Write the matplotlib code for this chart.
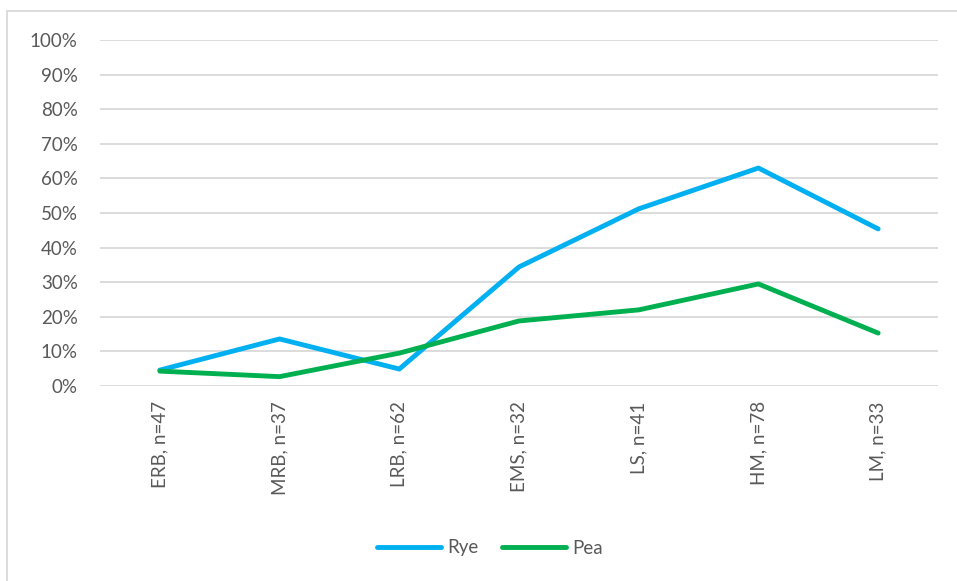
import matplotlib.pyplot as plt
from matplotlib.patches import Rectangle
from matplotlib.ticker import PercentFormatter, MultipleLocator

plt.rcParams['font.family'] = ['Lato', 'DejaVu Sans']

categories = ['ERB, n=47', 'MRB, n=37', 'LRB, n=62', 'EMS, n=32', 'LS, n=41', 'HM, n=78', 'LM, n=33']
rye = [0.046, 0.136, 0.049, 0.344, 0.512, 0.630, 0.454]
pea = [0.043, 0.027, 0.095, 0.188, 0.220, 0.295, 0.153]

text_color = '#595959'
grid_color = '#D9D9D9'

fig = plt.figure(figsize=(9.57, 5.81), dpi=100)
ax = fig.add_axes([100 / 957, 1 - 386 / 581, 838 / 957, 346 / 581])

x = range(len(categories))
ax.plot(x, rye, color='#00B0F0', lw=3.5, solid_capstyle='round', solid_joinstyle='round', label='Rye')
ax.plot(x, pea, color='#00B050', lw=3.5, solid_capstyle='round', solid_joinstyle='round', label='Pea')

ax.set_xlim(-0.5, len(categories) - 0.5)
ax.set_ylim(0, 1.0)
ax.yaxis.set_major_locator(MultipleLocator(0.1))
ax.yaxis.set_major_formatter(PercentFormatter(1.0, decimals=0))
ax.grid(axis='y', color=grid_color, lw=1.3)
ax.set_axisbelow(True)
for s in ax.spines.values():
    s.set_visible(False)

ax.set_xticks(list(x))
ax.set_xticklabels(categories, rotation=90, fontsize=13.5, color=text_color)
ax.tick_params(axis='both', length=0)
ax.tick_params(axis='y', labelsize=13.5, labelcolor=text_color, pad=16)
ax.tick_params(axis='x', pad=11)

fig.legend(loc='center', bbox_to_anchor=(0.512, 1 - 548 / 581), ncol=2, frameon=False,
           fontsize=13.5, labelcolor=text_color, handlelength=3.4, handletextpad=0.3,
           columnspacing=1.3)

# light outer frame of the chart area
fig.patches.append(Rectangle((7 / 957, -0.05), 1.05, 1 - 11 / 581 + 0.05,
                             transform=fig.transFigure, fill=False,
                             edgecolor='#D9D9D9', lw=1.3))

fig.savefig('out.png', dpi=100)
